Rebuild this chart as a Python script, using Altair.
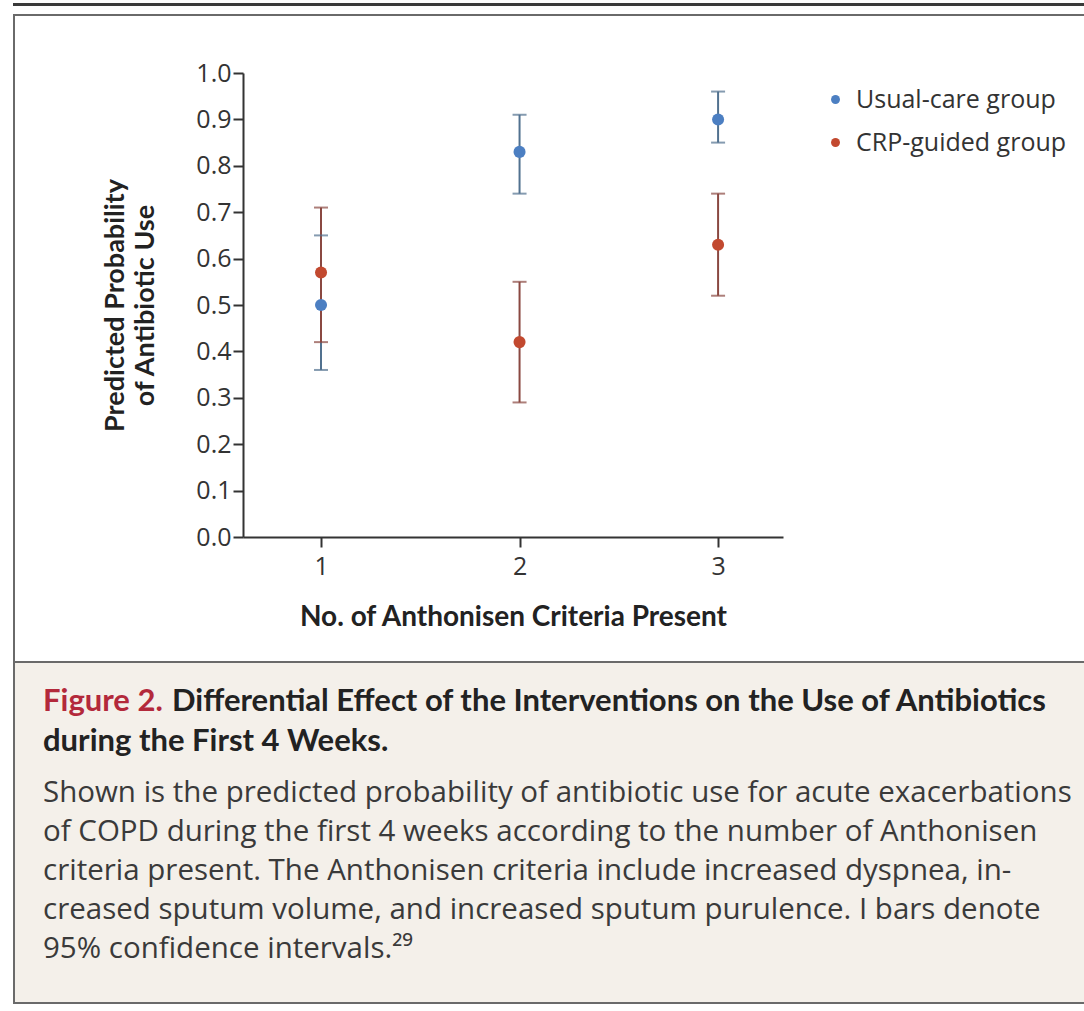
import altair as alt
import pandas as pd

# Predicted probability of antibiotic use with 95% CIs, by number of Anthonisen criteria
criteria = [1, 2, 3]
groups = ["Usual-care group", "CRP-guided group"]
usual_est = [0.50, 0.83, 0.90]
usual_lo = [0.36, 0.74, 0.85]
usual_hi = [0.65, 0.91, 0.96]
crp_est = [0.57, 0.42, 0.63]
crp_lo = [0.42, 0.29, 0.52]
crp_hi = [0.71, 0.55, 0.74]
y_ticks = [0.0, 0.1, 0.2, 0.3, 0.4, 0.5, 0.6, 0.7, 0.8, 0.9, 1.0]

caption_lead = "Figure 2."
caption_title = ["Differential Effect of the Interventions on the Use of Antibiotics",
                 "during the First 4 Weeks."]
caption_body = [
    "Shown is the predicted probability of antibiotic use for acute exacerbations",
    "of COPD during the first 4 weeks according to the number of Anthonisen",
    "criteria present. The Anthonisen criteria include increased dyspnea, in-",
    "creased sputum volume, and increased sputum purulence. I bars denote",
    "95% confidence intervals.\u00b2\u2079",
]

rows = []
for g, est, lo, hi in [(groups[0], usual_est, usual_lo, usual_hi),
                       (groups[1], crp_est, crp_lo, crp_hi)]:
    for c, e, l, h in zip(criteria, est, lo, hi):
        rows.append({"criteria": c, "group": g, "est": e, "lo": l, "hi": h})
df = pd.DataFrame(rows)
one = pd.DataFrame({"k": [0]})

W, H = 540, 464          # plot area
PL, PT = 243, 73         # plot origin on the page
PAGE_W, PAGE_H = 1084, 1011

TITLE_FONT = "Lato"
BODY_FONT = "Open Sans"

point_colors = ["#4c7fc2", "#c2492f"]
stem_colors = ["#51718f", "#8a4841"]

x_enc = alt.X("criteria:Q",
              scale=alt.Scale(domain=[0.607, 3.327], nice=False, zero=False),
              axis=alt.Axis(values=criteria, format="d",
                            title="No. of Anthonisen Criteria Present",
                            labelPadding=7, titlePadding=24, zindex=1))
y_scale = alt.Scale(domain=[0, 1], nice=False)
y_axis = alt.Axis(values=y_ticks, format=".1f",
                  title=["Predicted Probability", "of Antibiotic Use"],
                  titlePadding=36, titleLineHeight=30, zindex=1)

# page decoration: top rule, framed figure panel, caption panel
frame = alt.Chart(one).mark_rect(filled=False, stroke="#6a6a6a", strokeWidth=2).encode(
    x=alt.value(14 - PL), x2=alt.value(PAGE_W - PL + 20),
    y=alt.value(15 - PT), y2=alt.value(1003 - PT))
caption_box = alt.Chart(one).mark_rect(fill="#f4f0ea", stroke="#6a6a6a", strokeWidth=2).encode(
    x=alt.value(14 - PL), x2=alt.value(PAGE_W - PL + 20),
    y=alt.value(662 - PT), y2=alt.value(1003 - PT))
top_rule = alt.Chart(one).mark_rule(color="#3a3a3a", strokeWidth=3).encode(
    x=alt.value(13 - PL), x2=alt.value(PAGE_W - PL + 5), y=alt.value(4.5 - PT))

stem_color = alt.Color("group:N", scale=alt.Scale(domain=groups, range=stem_colors), legend=None)

stems = alt.Chart(df).mark_rule(strokeWidth=2).encode(
    x=x_enc, y=alt.Y("lo:Q", scale=y_scale, axis=y_axis), y2="hi:Q", color=stem_color)
caps_lo = alt.Chart(df).mark_tick(orient="horizontal", size=14, thickness=2).encode(
    x="criteria:Q", y="lo:Q", color=stem_color)
caps_hi = alt.Chart(df).mark_tick(orient="horizontal", size=14, thickness=2).encode(
    x="criteria:Q", y="hi:Q", color=stem_color)
points = alt.Chart(df).mark_circle(size=145, opacity=1).encode(
    x="criteria:Q", y="est:Q",
    color=alt.Color("group:N", scale=alt.Scale(domain=groups, range=point_colors),
                    legend=alt.Legend(title=None, orient="none", legendX=580, legendY=14)))

texts = []
texts.append(alt.Chart(one).mark_text(align="left", baseline="middle", font=TITLE_FONT,
                                      fontSize=31, fontWeight="bold", color="#b3293b").encode(
    x=alt.value(43 - PL), y=alt.value(702 - PT), text=alt.value(caption_lead)))
texts.append(alt.Chart(one).mark_text(align="left", baseline="middle", font=TITLE_FONT,
                                      fontSize=31, fontWeight="bold", color="#222").encode(
    x=alt.value(172 - PL), y=alt.value(702 - PT), text=alt.value(caption_title[0])))
texts.append(alt.Chart(one).mark_text(align="left", baseline="middle", font=TITLE_FONT,
                                      fontSize=31, fontWeight="bold", color="#222").encode(
    x=alt.value(43 - PL), y=alt.value(742 - PT), text=alt.value(caption_title[1])))
for i, line in enumerate(caption_body):
    texts.append(alt.Chart(one).mark_text(align="left", baseline="middle", font=BODY_FONT,
                                          fontSize=29.5, color="#3a3a3a").encode(
        x=alt.value(43 - PL), y=alt.value(793 + 39 * i - PT), text=alt.value(line)))

chart = alt.layer(frame, caption_box, top_rule, stems, caps_lo, caps_hi, points, *texts).resolve_scale(
    color="independent"
).properties(
    width=W, height=H,
    autosize=alt.AutoSizeParams(type="none"),
    padding={"left": PL, "top": PT, "right": PAGE_W - PL - W, "bottom": PAGE_H - PT - H},
    background="white",
).configure_view(stroke=None).configure_axis(
    grid=False, domainColor="#333", domainWidth=2, tickColor="#333", tickWidth=2,
    tickSize=10, labelFont=BODY_FONT, labelFontSize=25, labelColor="#333",
    titleFont=TITLE_FONT, titleFontSize=27, titleFontWeight="bold", titleColor="#222",
).configure_axisX(titleFontSize=28).configure_legend(
    labelFont=BODY_FONT, labelFontSize=25, labelColor="#333", labelLimit=400, symbolSize=80,
    symbolType="circle", rowPadding=17, labelOffset=8, symbolStrokeWidth=0,
)

chart.save("out.html", embed_options={"renderer": "svg", "actions": False})
